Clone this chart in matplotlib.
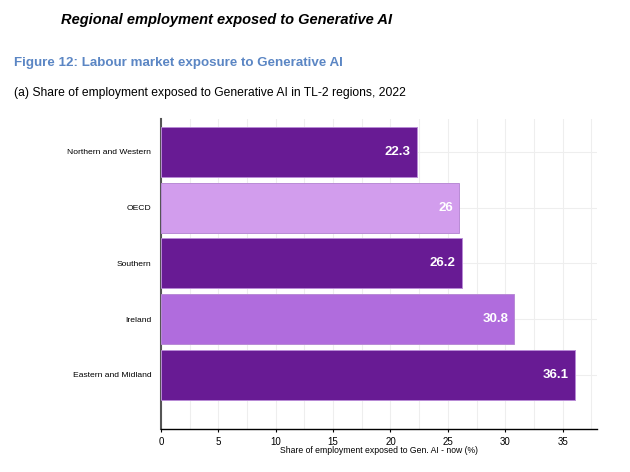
import matplotlib.pyplot as plt
import numpy as np

# data
regions = ["Northern and Western", "OECD", "Southern", "Ireland", "Eastern and Midland"]
shares = [22.3, 26, 26.2, 30.8, 36.1]
share_labels = ["22.3", "26", "26.2", "30.8", "36.1"]
bar_colors = ["#681b94", "#d29ded", "#681b94", "#b06cdd", "#681b94"]

plt.rcParams['font.family'] = ['Liberation Sans', 'DejaVu Sans']

fig = plt.figure(figsize=(6.3, 4.72), dpi=100)
ax = fig.add_axes([0.2556, 0.0911, 0.6920, 0.6568])

y = np.arange(len(regions))
ax.barh(y, shares, height=0.9, color=bar_colors, edgecolor="#b98bd6", linewidth=0.7, zorder=3)
for yi, v, s in zip(y, shares, share_labels):
    ax.text(v - 0.55, yi, s, ha='right', va='center', color='white',
            fontsize=9.5, fontweight='bold', zorder=4)

ax.set_xlim(0, 38)
ax.set_ylim(4.97, -0.59)
ax.set_xticks(np.arange(0, 36, 5))
ax.set_xticks(np.arange(2.5, 38, 2.5), minor=True)
ax.set_yticks(y)
ax.set_yticklabels(regions, fontsize=6.1)
ax.tick_params(axis='y', length=0, pad=7)
ax.tick_params(axis='x', which='major', length=2, width=0.8, labelsize=7, pad=4)
ax.tick_params(axis='x', which='minor', length=0)
ax.grid(True, which='both', axis='x', color='#eeeeee', linewidth=0.8, zorder=0)
ax.grid(True, axis='y', color='#eeeeee', linewidth=0.8, zorder=0)

for side in ['top', 'right']:
    ax.spines[side].set_visible(False)
ax.spines['left'].set_color('#555555')
ax.spines['left'].set_linewidth(1.5)
ax.spines['bottom'].set_color('black')
ax.spines['bottom'].set_linewidth(1.0)

ax.set_xlabel("Share of employment exposed to Gen. AI - now (%)", fontsize=6.2, labelpad=-1)

fig.text(61 / 630, 1 - 20 / 472, "Regional employment exposed to Generative AI",
         fontsize=10.5, fontweight='bold', style='italic', va='center', ha='left')
fig.text(14 / 630, 1 - 63 / 472, "Figure 12: Labour market exposure to Generative AI",
         fontsize=9.6, fontweight='bold', color='#5b86c4', va='center', ha='left')
fig.text(14 / 630, 1 - 93 / 472, "(a) Share of employment exposed to Generative AI in TL-2 regions, 2022",
         fontsize=8.7, color='black', va='center', ha='left')

plt.savefig("out.png", dpi=100)
